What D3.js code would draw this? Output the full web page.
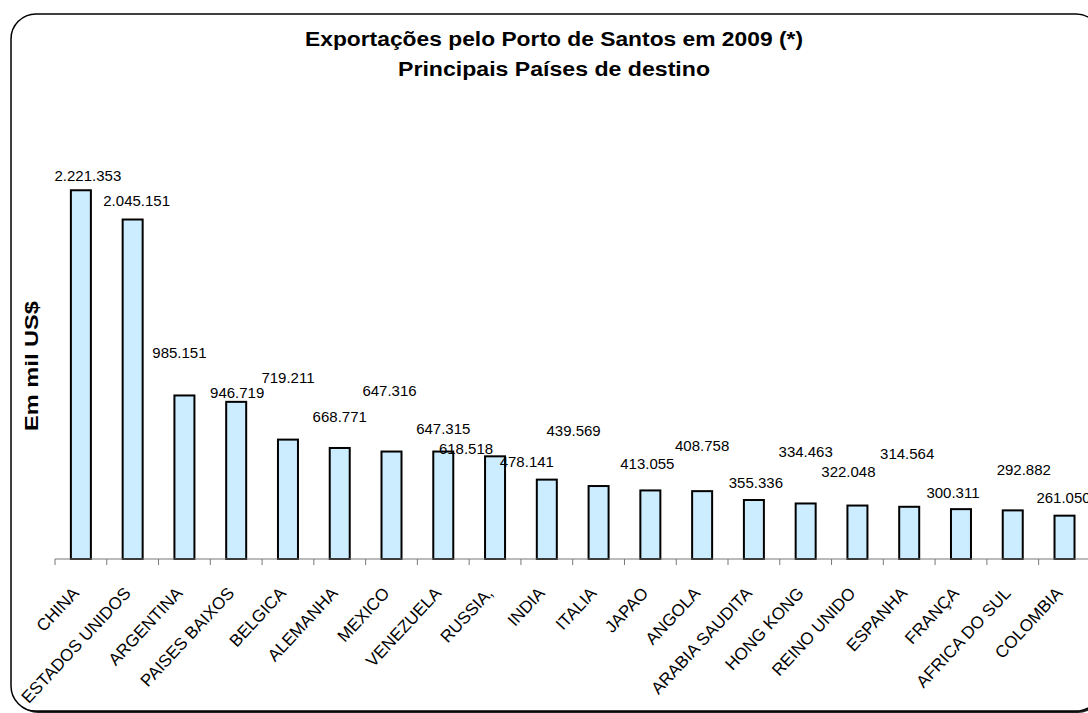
<!DOCTYPE html>
<html>
<head>
<meta charset="utf-8">
<script src="https://cdn.jsdelivr.net/npm/d3@7"></script>
<style>
  body { margin: 0; background: #fff; }
  text { font-family: "Liberation Sans", Arial, sans-serif; fill: #000; }
</style>
</head>
<body>
<div id="chart"></div>
<script>
// data (values in mil US$)
var paises = ["CHINA", "ESTADOS UNIDOS", "ARGENTINA", "PAISES BAIXOS", "BELGICA",
  "ALEMANHA", "MEXICO", "VENEZUELA", "RUSSIA,", "INDIA", "ITALIA", "JAPAO",
  "ANGOLA", "ARABIA SAUDITA", "HONG KONG", "REINO UNIDO", "ESPANHA", "FRANÇA",
  "AFRICA DO SUL", "COLOMBIA"];
var valores = [2221353, 2045151, 985151, 946719, 719211, 668771, 647316, 647315,
  618518, 478141, 439569, 413055, 408758, 355336, 334463, 322048, 314564, 300311,
  292882, 261050];
var titulo1 = "Exportações pelo Porto de Santos em 2009 (*)";
var titulo2 = "Principais Países de destino";
var tituloY = "Em mil US$";

// the labels in the original drift away from their bars: [dx, dy] from the bar top
var deslocamento = [[7, -15], [4, -19], [-5, -43], [1, -9], [0, -62], [0, -31],
  [-2, -61], [0, -23], [-29, -8], [-20, -18], [-25, -55], [-3, -27], [0, -46],
  [2, -17], [0, -52], [-9, -34], [-2, -53], [-8, -17], [11, -41], [-1, -18]];

var width = 1088, height = 713;
var base = 559;

var svg = d3.select("#chart").append("svg")
    .attr("width", width)
    .attr("height", height);

// frame with shadow
svg.append("rect")
    .attr("x", 13).attr("y", 16)
    .attr("width", 1090).attr("height", 697)
    .attr("rx", 25).attr("ry", 25)
    .attr("fill", "#222");
svg.append("rect")
    .attr("x", 11).attr("y", 14)
    .attr("width", 1090).attr("height", 697)
    .attr("rx", 25).attr("ry", 25)
    .attr("fill", "#fff")
    .attr("stroke", "#000")
    .attr("stroke-width", 1.5);

var x = d3.scaleBand()
    .domain(paises)
    .range([55, 55 + 20 * 51.77]);

var y = d3.scaleLinear()
    .domain([0, 2500000])
    .range([base, 144]);

var fmt = d3.formatLocale({decimal: ",", thousands: ".", grouping: [3], currency: ["R$", ""]}).format(",");

// titles
svg.append("text")
    .attr("x", 554).attr("y", 46)
    .attr("text-anchor", "middle")
    .style("font-weight", "bold").style("font-size", "19.5px")
    .attr("textLength", 498).attr("lengthAdjust", "spacingAndGlyphs")
    .text(titulo1);
svg.append("text")
    .attr("x", 554).attr("y", 76)
    .attr("text-anchor", "middle")
    .style("font-weight", "bold").style("font-size", "19.5px")
    .attr("textLength", 312).attr("lengthAdjust", "spacingAndGlyphs")
    .text(titulo2);

svg.append("text")
    .attr("transform", "translate(38, 366) rotate(-90)")
    .attr("text-anchor", "middle")
    .style("font-weight", "bold").style("font-size", "17.5px")
    .attr("textLength", 130).attr("lengthAdjust", "spacingAndGlyphs")
    .text(tituloY);

// bars
var bw = 20;
svg.selectAll(".bar")
    .data(valores)
    .enter()
    .append("rect")
    .attr("class", "bar")
    .attr("x", function(d, i) { return x(paises[i]) + x.bandwidth() / 2 - bw / 2; })
    .attr("y", function(d) { return y(d); })
    .attr("width", bw)
    .attr("height", function(d) { return base - y(d); })
    .attr("fill", "#CCECFF")
    .attr("stroke", "#000")
    .attr("stroke-width", 2);

// axis line and ticks
svg.append("line")
    .attr("x1", x.range()[0]).attr("x2", width)
    .attr("y1", base).attr("y2", base)
    .attr("stroke", "#777").attr("stroke-width", 1);
svg.selectAll(".tick")
    .data(paises)
    .enter()
    .append("line")
    .attr("x1", function(d) { return x(d); })
    .attr("x2", function(d) { return x(d); })
    .attr("y1", base).attr("y2", base + 6)
    .attr("stroke", "#777").attr("stroke-width", 1);

// value labels
svg.selectAll(".valor")
    .data(valores)
    .enter()
    .append("text")
    .attr("class", "valor")
    .attr("x", function(d, i) { return x(paises[i]) + x.bandwidth() / 2 + deslocamento[i][0]; })
    .attr("y", function(d, i) { return y(d) + deslocamento[i][1] + 5.4; })
    .attr("text-anchor", "middle")
    .style("font-size", "15px")
    .text(function(d) { return fmt(d); });

// category labels
svg.selectAll(".pais")
    .data(paises)
    .enter()
    .append("text")
    .attr("class", "pais")
    .attr("transform", function(d) {
        return `translate(${x(d) + x.bandwidth() / 2 - 1}, 594) rotate(-47)`;
    })
    .attr("text-anchor", "end")
    .style("font-size", "17px")
    .text(function(d) { return d; });
</script>
</body>
</html>
